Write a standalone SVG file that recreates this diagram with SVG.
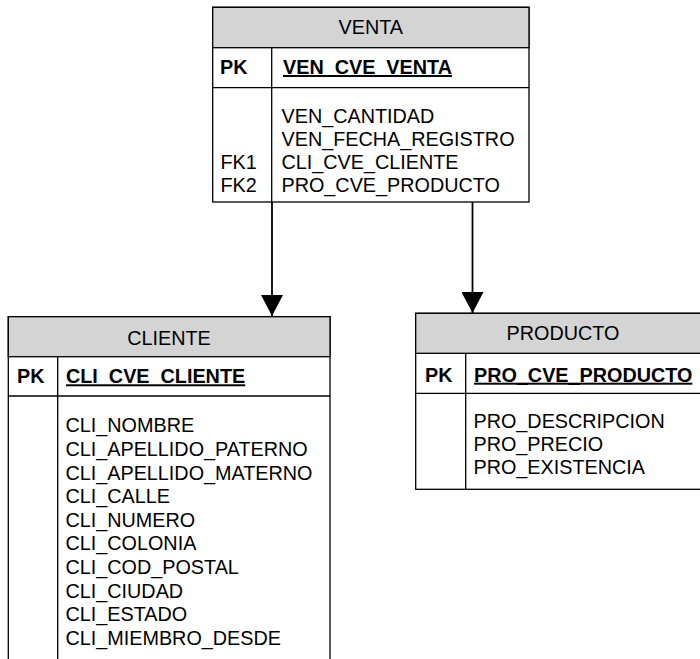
<svg xmlns="http://www.w3.org/2000/svg" width="700" height="659" viewBox="0 0 700 659">
<style>
text { font-family: "Liberation Sans", Arial, sans-serif; font-size: 19.8px; fill: #000; }
.hdr { fill: #d4d4d4; stroke: #000; stroke-width: 1.3; }
.box { fill: #fff; stroke: #000; stroke-width: 1.3; }
.ln { stroke: #000; stroke-width: 1.3; fill: none; }
.title { text-anchor: middle; }
.pk { font-weight: bold; }
.pkf { font-weight: bold; text-decoration: underline; }
.conn { stroke: #000; stroke-width: 1.8; fill: none; }
</style>
<defs>
<marker id="arr" markerUnits="userSpaceOnUse" markerWidth="22" markerHeight="22" viewBox="0 0 22 22" refX="21" refY="11" orient="auto">
<path d="M0,0 L21,11 L0,22 Z" fill="#000"/>
</marker>
</defs>
<rect width="700" height="659" fill="#fff"/>
<g id="connectors">
<line class="conn" x1="272" y1="202" x2="272" y2="316" marker-end="url(#arr)"/>
<line class="conn" x1="472.5" y1="202" x2="472.5" y2="313" marker-end="url(#arr)"/>
</g>
<g id="VENTA">
<rect class="box" x="212.7" y="7.3" width="316.3" height="194.7"/>
<rect class="hdr" x="212.7" y="7.3" width="316.3" height="40.4"/>
<line class="ln" x1="212.7" y1="87.7" x2="529" y2="87.7"/>
<line class="ln" x1="271.7" y1="47.7" x2="271.7" y2="202"/>
<text class="title" x="370.8" y="34.3">VENTA</text>
<text class="pk" x="220" y="74">PK</text>
<text class="pkf" x="283" y="74">VEN_CVE_VENTA</text>
<text x="281.5" y="122.5">VEN_CANTIDAD</text>
<text x="281.5" y="145.5">VEN_FECHA_REGISTRO</text>
<text x="220.5" y="168.5">FK1</text>
<text x="281.5" y="168.5">CLI_CVE_CLIENTE</text>
<text x="220.5" y="191.5">FK2</text>
<text x="281.5" y="191.5">PRO_CVE_PRODUCTO</text>
</g>
<g id="CLIENTE">
<rect class="box" x="8.3" y="316.7" width="321.7" height="370"/>
<rect class="hdr" x="8.3" y="316.7" width="321.7" height="40"/>
<line class="ln" x1="8.3" y1="396" x2="330" y2="396"/>
<line class="ln" x1="57.7" y1="356.7" x2="57.7" y2="690"/>
<text class="title" x="169" y="345">CLIENTE</text>
<text class="pk" x="17" y="383.3">PK</text>
<text class="pkf" x="66" y="383.3">CLI_CVE_CLIENTE</text>
<text x="65.5" y="432.3">CLI_NOMBRE</text>
<text x="65.5" y="456">CLI_APELLIDO_PATERNO</text>
<text x="65.5" y="479.5">CLI_APELLIDO_MATERNO</text>
<text x="65.5" y="503">CLI_CALLE</text>
<text x="65.5" y="526.7">CLI_NUMERO</text>
<text x="65.5" y="550.3">CLI_COLONIA</text>
<text x="65.5" y="574">CLI_COD_POSTAL</text>
<text x="65.5" y="597.6">CLI_CIUDAD</text>
<text x="65.5" y="621.2">CLI_ESTADO</text>
<text x="65.5" y="644.8">CLI_MIEMBRO_DESDE</text>
</g>
<g id="PRODUCTO">
<rect class="box" x="415.7" y="313.3" width="300" height="176"/>
<rect class="hdr" x="415.7" y="313.3" width="300" height="40"/>
<line class="ln" x1="415.7" y1="393.3" x2="716" y2="393.3"/>
<line class="ln" x1="465.7" y1="353.3" x2="465.7" y2="489.3"/>
<text class="title" x="563" y="340">PRODUCTO</text>
<text class="pk" x="425" y="381.7">PK</text>
<text class="pkf" x="474" y="381.7">PRO_CVE_PRODUCTO</text>
<text x="473.5" y="427.7">PRO_DESCRIPCION</text>
<text x="473.5" y="450.8">PRO_PRECIO</text>
<text x="473.5" y="474">PRO_EXISTENCIA</text>
</g>
</svg>
